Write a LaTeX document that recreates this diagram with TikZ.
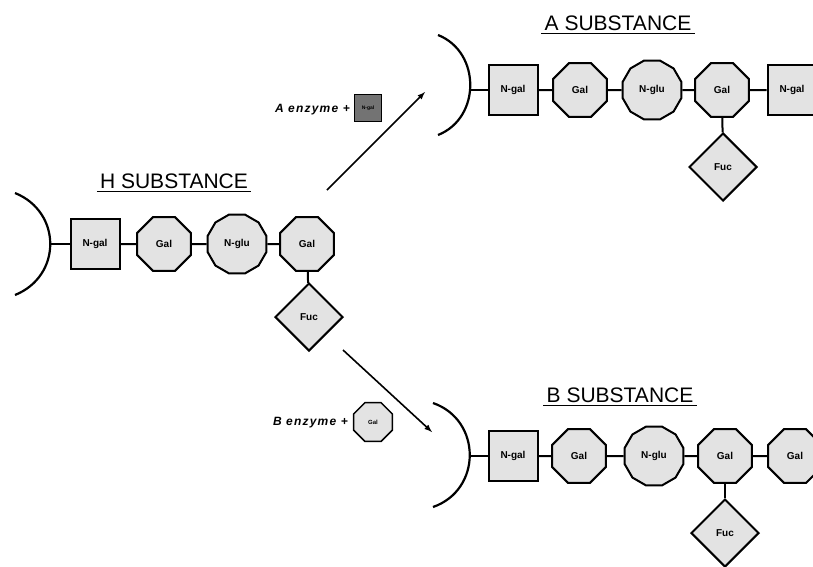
\documentclass[tikz,border=0pt]{standalone}
\usepackage{fontspec}
\setmainfont{Liberation Sans}
\usetikzlibrary{shapes.geometric}
\tikzset{>=latex}
\tikzset{
  sugar/.style={draw, line width=2pt, fill=black!11, inner sep=0pt,
                font=\bfseries\fontsize{10}{11}\selectfont},
  ngal/.style={sugar, rectangle, minimum width=49, minimum height=50},
  gal/.style={sugar, regular polygon, regular polygon sides=8, minimum size=58},
  nglu/.style={sugar, regular polygon, regular polygon sides=12, minimum size=61},
  fuc/.style={sugar, diamond, minimum width=68, minimum height=68},
  bond/.style={line width=2pt},
  membrane/.style={line width=2.2pt},
  title/.style={font=\fontsize{21}{24}\selectfont, inner sep=3pt},
  enzyme/.style={font=\bfseries\itshape\fontsize{12}{13}\selectfont\addfontfeatures{LetterSpace=10}, inner sep=1pt},
}
\begin{document}
\begin{tikzpicture}[x=1pt,y=-1pt]
  \clip (0,0) rectangle (813,566);
  % H substance
  \node[title] (htitle) at (174,181) {H SUBSTANCE};
  \draw[line width=1.2pt] (htitle.south west) -- (htitle.south east);
  \draw[membrane] (15,193) .. controls (62,212) and (62,276) .. (15,295);
  \coordinate (hmem) at (50,244);
  \node[ngal] (hngal) at (95,244) {N-gal};
  \node[gal]  (hgal1) at (164,244) {Gal};
  \node[nglu] (hnglu) at (237,244) {N-glu};
  \node[gal]  (hgal2) at (307,244) {Gal};
  \node[fuc]  (hfuc)  at (309,317) {Fuc};
  % A substance
  \node[title] (atitle) at (618,23) {A SUBSTANCE};
  \draw[line width=1.2pt] (atitle.south west) -- (atitle.south east);
  \draw[membrane] (438,35) .. controls (481,52) and (481,118) .. (438,135);
  \coordinate (amem) at (470,90);
  \node[ngal] (angal1) at (513,90) {N-gal};
  \node[gal]  (agal1)  at (580,90) {Gal};
  \node[nglu] (anglu)  at (652,90) {N-glu};
  \node[gal]  (agal2)  at (722,90) {Gal};
  \node[ngal] (angal2) at (792,90) {N-gal};
  \node[fuc]  (afuc)   at (723,167) {Fuc};
  % B substance
  \node[title] (btitle) at (620,395) {B SUBSTANCE};
  \draw[line width=1.2pt] (btitle.south west) -- (btitle.south east);
  \draw[membrane] (433,403) .. controls (482,420) and (482,490) .. (433,507);
  \coordinate (bmem) at (470,456);
  \node[ngal] (bngal) at (513,456) {N-gal};
  \node[gal]  (bgal1) at (579,456) {Gal};
  \node[nglu] (bnglu) at (654,456) {N-glu};
  \node[gal]  (bgal2) at (725,456) {Gal};
  \node[gal]  (bgal3) at (795,456) {Gal};
  \node[fuc]  (bfuc)  at (725,533) {Fuc};
  % bonds
  \foreach \a/\b in {hmem/hngal,hngal/hgal1,hgal1/hnglu,hnglu/hgal2,hgal2/hfuc,
                     amem/angal1,angal1/agal1,agal1/anglu,anglu/agal2,agal2/angal2,agal2/afuc,
                     bmem/bngal,bngal/bgal1,bgal1/bnglu,bnglu/bgal2,bgal2/bgal3,bgal2/bfuc}
    \draw[bond] (\a) -- (\b);
  % enzyme arrows
  \coordinate (hup) at (327,190);
  \coordinate (ain) at (425,92);
  \coordinate (hdown) at (343,350);
  \coordinate (bin) at (432,432);
  \draw[->, line width=1.6pt] (hup) -- (ain);
  \draw[->, line width=1.6pt] (hdown) -- (bin);
  \node[enzyme, anchor=east] (aenz) at (351,110) {A enzyme +};
  \node[ngal, minimum width=27, minimum height=27, line width=1.5pt, fill=black!55,
        font=\bfseries\fontsize{5}{6}\selectfont] (aadd) at (368,108) {N-gal};
  \node[enzyme, anchor=east] (benz) at (349,423) {B enzyme +};
  \node[gal, minimum size=42, line width=1.5pt,
        font=\bfseries\fontsize{6}{7}\selectfont] (badd) at (373,422) {Gal};
\end{tikzpicture}
\end{document}
